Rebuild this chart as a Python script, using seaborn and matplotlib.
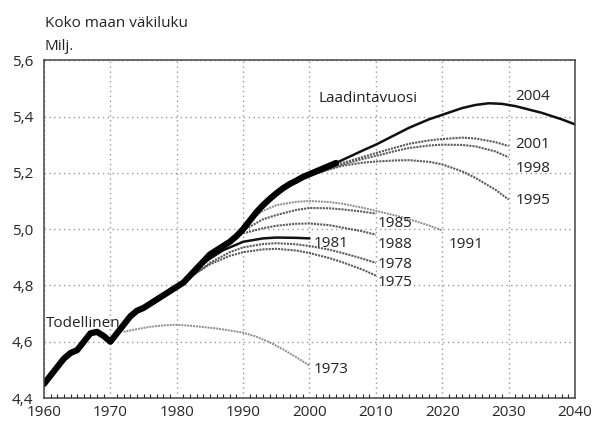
import pandas as pd
import numpy as np
import seaborn as sns
import matplotlib.pyplot as plt
from matplotlib.ticker import MultipleLocator, FuncFormatter

# Todellinen väkiluku (milj.)
vuodet_tod = [1960, 1961, 1962, 1963, 1964, 1965, 1966, 1967, 1968, 1969, 1970,
              1971, 1972, 1973, 1974, 1975, 1976, 1977, 1978, 1979, 1980,
              1981, 1982, 1983, 1984, 1985, 1986, 1987, 1988, 1989, 1990,
              1991, 1992, 1993, 1994, 1995, 1996, 1997, 1998, 1999, 2000,
              2001, 2002, 2003, 2004]
vakiluku_tod = [4.45, 4.48, 4.51, 4.54, 4.56, 4.57, 4.60, 4.63, 4.635, 4.62, 4.60,
                4.63, 4.66, 4.69, 4.71, 4.72, 4.735, 4.75, 4.765, 4.78, 4.795,
                4.81, 4.835, 4.86, 4.885, 4.91, 4.925, 4.94, 4.955, 4.975, 5.00,
                5.03, 5.06, 5.085, 5.107, 5.127, 5.145, 5.16, 5.172, 5.185, 5.195,
                5.205, 5.215, 5.225, 5.235]

# Ennusteet laadintavuoden mukaan
v1973 = [1972, 1974, 1976, 1978, 1980, 1982, 1984, 1986, 1988, 1990, 1992, 1994, 1996, 1998, 2000]
e1973 = [4.635, 4.645, 4.653, 4.658, 4.66, 4.657, 4.652, 4.647, 4.64, 4.632, 4.618, 4.598, 4.573, 4.545, 4.515]
v1975 = [1975, 1978, 1980, 1983, 1985, 1988, 1990, 1993, 1995, 1998, 2000, 2003, 2005, 2008, 2010]
e1975 = [4.72, 4.765, 4.795, 4.845, 4.875, 4.905, 4.918, 4.928, 4.93, 4.924, 4.915, 4.897, 4.882, 4.856, 4.835]
v1978 = [1978, 1980, 1983, 1985, 1988, 1990, 1993, 1995, 1998, 2000, 2003, 2005, 2008, 2010]
e1978 = [4.765, 4.795, 4.845, 4.88, 4.918, 4.935, 4.947, 4.95, 4.946, 4.94, 4.927, 4.915, 4.895, 4.88]
v1981 = [1981, 1983, 1985, 1987, 1990, 1993, 1995, 1998, 2000]
e1981 = [4.81, 4.86, 4.895, 4.925, 4.955, 4.967, 4.97, 4.969, 4.967]
v1985 = [1985, 1987, 1990, 1993, 1995, 1998, 2000, 2003, 2005, 2008, 2010]
e1985 = [4.91, 4.945, 4.995, 5.035, 5.05, 5.068, 5.075, 5.074, 5.07, 5.062, 5.055]
v1988 = [1988, 1990, 1993, 1995, 1998, 2000, 2003, 2005, 2008, 2010]
e1988 = [4.955, 4.985, 5.003, 5.012, 5.019, 5.02, 5.014, 5.005, 4.992, 4.98]
v1991 = [1991, 1993, 1995, 1998, 2000, 2003, 2005, 2008, 2010, 2013, 2015, 2018, 2020]
e1991 = [5.03, 5.065, 5.085, 5.097, 5.10, 5.096, 5.09, 5.076, 5.065, 5.048, 5.035, 5.013, 4.995]
v1995 = [1995, 1997, 2000, 2003, 2005, 2008, 2010, 2013, 2015, 2018, 2020, 2023, 2025, 2028, 2030]
e1995 = [5.127, 5.16, 5.19, 5.212, 5.225, 5.236, 5.24, 5.244, 5.245, 5.239, 5.23, 5.205, 5.182, 5.14, 5.105]
v1998 = [1998, 2000, 2003, 2005, 2008, 2010, 2013, 2015, 2018, 2020, 2023, 2025, 2028, 2030]
e1998 = [5.172, 5.19, 5.215, 5.23, 5.249, 5.26, 5.278, 5.288, 5.297, 5.30, 5.299, 5.294, 5.276, 5.255]
v2001 = [2001, 2003, 2005, 2008, 2010, 2013, 2015, 2018, 2020, 2023, 2025, 2028, 2030]
e2001 = [5.205, 5.22, 5.235, 5.256, 5.27, 5.29, 5.303, 5.315, 5.32, 5.325, 5.322, 5.309, 5.295]
v2004 = [2004, 2006, 2008, 2010, 2013, 2015, 2018, 2020, 2023, 2025, 2027, 2029, 2031, 2033, 2035, 2038, 2040]
e2004 = [5.235, 5.257, 5.279, 5.30, 5.336, 5.36, 5.39, 5.406, 5.43, 5.441, 5.447, 5.445, 5.437, 5.425, 5.413, 5.39, 5.372]

ennusteet = {
    "1973": (v1973, e1973), "1975": (v1975, e1975), "1978": (v1978, e1978),
    "1981": (v1981, e1981), "1985": (v1985, e1985), "1988": (v1988, e1988),
    "1991": (v1991, e1991), "1995": (v1995, e1995), "1998": (v1998, e1998),
    "2001": (v2001, e2001), "2004": (v2004, e2004),
}

# Nimiöiden paikat
nimio_x = {"1973": 2000.6, "1975": 2010.3, "1978": 2010.3, "1981": 2000.6,
           "1985": 2010.3, "1988": 2010.3, "1991": 2020.9, "1995": 2031.0,
           "1998": 2031.0, "2001": 2031.0, "2004": 2031.0}
nimio_y = {"1973": 4.50, "1975": 4.81, "1978": 4.875, "1981": 4.95,
           "1985": 5.02, "1988": 4.946, "1991": 4.946, "1995": 5.10,
           "1998": 5.215, "2001": 5.30, "2004": 5.47}

rivit = []
for nimi, (vv, ee) in ennusteet.items():
    for v, e in zip(vv, ee):
        rivit.append({"vuosi": v, "vakiluku": e, "ennuste": nimi})
df_enn = pd.DataFrame(rivit)
df_tod = pd.DataFrame({"vuosi": vuodet_tod, "vakiluku": vakiluku_tod})

sns.set_style("white")
plt.rcParams['font.family'] = ['Open Sans', 'DejaVu Sans']

fig = plt.figure(figsize=(5.92, 4.24), dpi=100)
ax = fig.add_axes([0.0743, 0.0613, 0.8970, 0.7967])

vaaleat = ["1973", "1991"]
harmaat = [n for n in ennusteet if n not in ("1981", "2004", "1973", "1991")]
sns.lineplot(data=df_enn[df_enn["ennuste"].isin(vaaleat)], x="vuosi", y="vakiluku",
             units="ennuste", estimator=None, color="#8c8c8c", linewidth=1.4,
             linestyle=(0, (1, 0.5)), ax=ax, legend=False)
sns.lineplot(data=df_enn[df_enn["ennuste"].isin(harmaat)], x="vuosi", y="vakiluku",
             units="ennuste", estimator=None, color="#5a5a5a", linewidth=1.5,
             linestyle=(0, (1, 0.5)), ax=ax, legend=False)
sns.lineplot(data=df_enn[df_enn["ennuste"].isin(["1981", "2004"])], x="vuosi", y="vakiluku",
             units="ennuste", estimator=None, color="#111111", linewidth=1.8,
             ax=ax, legend=False)
sns.lineplot(data=df_tod, x="vuosi", y="vakiluku", color="black", linewidth=4.5,
             ax=ax, legend=False)

fs = 11
for nimi in ennusteet:
    ax.text(nimio_x[nimi], nimio_y[nimi], nimi, fontsize=fs, color="#222222",
            va="center", ha="left")
ax.text(1960.3, 4.664, "Todellinen", fontsize=fs, color="#222222", va="center")
ax.text(2001.3, 5.464, "Laadintavuosi", fontsize=fs, color="#222222", va="center")

ax.set_xlim(1960, 2040)
ax.set_ylim(4.4, 5.6)
ax.xaxis.set_major_locator(MultipleLocator(10))
ax.xaxis.set_minor_locator(MultipleLocator(1))
ax.yaxis.set_major_locator(MultipleLocator(0.2))
ax.yaxis.set_major_formatter(FuncFormatter(lambda v, p: f"{v:.1f}".replace(".", ",")))
ax.tick_params(axis="x", which="major", direction="inout", length=8, width=1,
               labelsize=fs, pad=1)
ax.tick_params(axis="x", which="minor", direction="in", length=3, width=0.8, bottom=True)
ax.tick_params(axis="y", which="major", left=False, labelsize=fs, pad=4)
ax.set_xlabel("")
ax.set_ylabel("")
ax.grid(True, which="major", color="#999999", linestyle=(0, (1, 2.5)), linewidth=1.0)
for s in ax.spines.values():
    s.set_color("#444444")
    s.set_linewidth(1.1)

fig.text(0.076, 0.945, "Koko maan väkiluku", fontsize=fs, color="#222222", va="center")
fig.text(0.076, 0.891, "Milj.", fontsize=fs, color="#222222", va="center")

fig.savefig("out.png", dpi=100)
